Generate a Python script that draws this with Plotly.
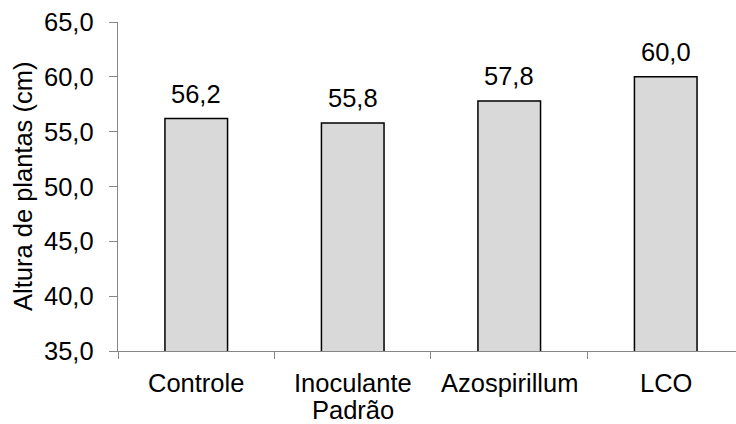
import plotly.graph_objects as go

categories = ["Controle", "Inoculante<br>Padrão", "Azospirillum", "LCO"]
heights = [56.2, 55.8, 57.8, 60.0]
y_ticks = [35, 40, 45, 50, 55, 60, 65]
y_title = "Altura de plantas (cm)"

FONT = "Liberation Sans, Arial, sans-serif"
AXIS_GREY = "#868686"
FS = 25.5
PLOT_L, PLOT_W = 118, 618
PLOT_T, PLOT_H = 22, 329


def comma(v):
    return f"{v:.1f}".replace(".", ",")


fig = go.Figure()
fig.add_trace(go.Bar(
    x=categories,
    y=heights,
    width=0.4,
    marker=dict(color="#d9d9d9", line=dict(color="black", width=1.5)),
    hoverinfo="skip",
))

# Value labels above each bar, with comma as decimal separator
for cat, val in zip(categories, heights):
    fig.add_annotation(
        x=cat, y=val, xref="x", yref="y",
        text=comma(val),
        showarrow=False, yanchor="bottom", yshift=9,
        font=dict(family=FONT, size=FS, color="black"),
    )

# Category names under the axis, one line at a time for tight line spacing
LINE_STEP = 26.7
FIRST_LINE = 32
for cat in categories:
    for i, line in enumerate(cat.split("<br>")):
        fig.add_annotation(
            x=cat, y=0, xref="x", yref="paper",
            text=line, showarrow=False,
            xanchor="center", yanchor="middle",
            yshift=-(FIRST_LINE + i * LINE_STEP),
            font=dict(family=FONT, size=FS, color="black"),
        )

# Value-axis tick labels, right-aligned a little away from the tick marks
for v in y_ticks:
    fig.add_annotation(
        x=(96 - PLOT_L) / PLOT_W, y=v, xref="paper", yref="y",
        text=comma(v), showarrow=False,
        xanchor="right", yanchor="middle",
        font=dict(family=FONT, size=FS, color="black"),
    )

# Vertical axis title
fig.add_annotation(
    x=(22.5 - PLOT_L) / PLOT_W, y=0.5, xref="paper", yref="paper",
    text=y_title, textangle=-90, showarrow=False,
    xanchor="center", yanchor="middle",
    font=dict(family=FONT, size=FS, color="black"),
)

fig.update_layout(
    width=736, height=424,
    margin=dict(l=PLOT_L, r=0, t=PLOT_T, b=424 - PLOT_T - PLOT_H),
    plot_bgcolor="white", paper_bgcolor="white",
    showlegend=False,
    font=dict(family=FONT, size=FS, color="black"),
)
fig.update_xaxes(
    type="category",
    range=[-0.5, 3.449],
    showline=True, linecolor=AXIS_GREY, linewidth=1.3,
    ticks="outside", tickson="boundaries", ticklen=7, tickcolor=AXIS_GREY, tickwidth=1.3,
    showticklabels=False,
    showgrid=False, zeroline=False,
)
fig.update_yaxes(
    range=[35, 65],
    tickvals=y_ticks,
    showline=True, linecolor=AXIS_GREY, linewidth=1.3,
    ticks="outside", ticklen=8, tickcolor=AXIS_GREY, tickwidth=1.3,
    showticklabels=False,
    showgrid=False, zeroline=False,
)

fig.write_html("out.html")
